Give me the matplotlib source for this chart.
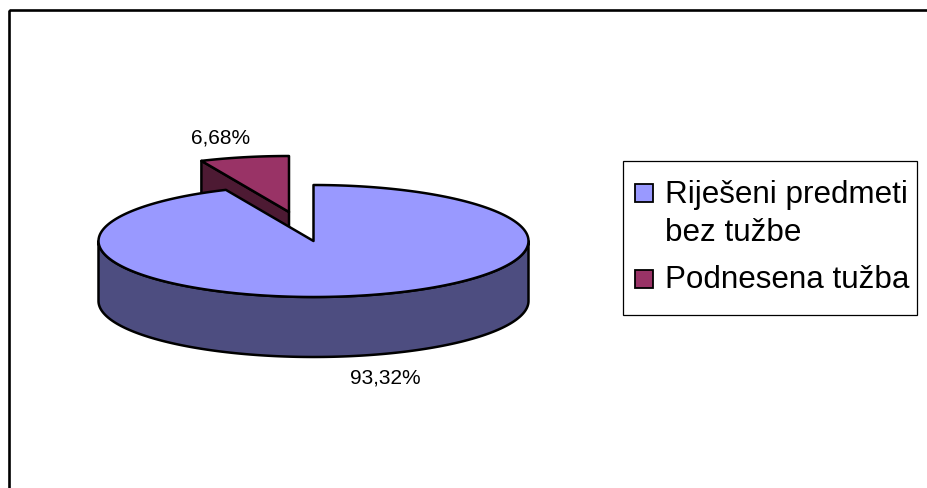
import numpy as np
import matplotlib
matplotlib.use("Agg")
import matplotlib.pyplot as plt
from matplotlib.patches import Polygon, Rectangle

plt.rcParams['font.family'] = ['Liberation Sans', 'DejaVu Sans']

categories = ["Riješeni predmeti\nbez tužbe", "Podnesena tužba"]
shares = [93.32, 6.68]
share_labels = ["93,32%", "6,68%"]
top_colors = ["#9999FF", "#993366"]
side_colors = ["#4D4D80", "#4D1A33"]

W, H = 928, 488
CX, CY, A, B, DEPTH = 313.5, 241.0, 215.0, 56.0, 60.0
EXPLODE = (-24.5, -29.0)
LW = 1.8

fig = plt.figure(figsize=(W / 100, H / 100), dpi=100)
ax = fig.add_axes([0, 0, 1, 1])
ax.set_xlim(0, W)
ax.set_ylim(H, 0)
ax.axis("off")


def arc(t0, t1, cx, cy):
    t = np.radians(np.linspace(t0, t1, 240))
    return np.column_stack([cx + A * np.sin(t), cy - B * np.cos(t)])


def poly(pts, fc, z, ec="black"):
    ax.add_patch(Polygon(pts, closed=True, facecolor=fc, edgecolor=ec,
                         linewidth=LW, joinstyle="round", zorder=z))


# frame: the right and bottom edges lie outside the picture
ax.add_patch(Rectangle((8.7, 9.5), 1000, 600, fill=False, edgecolor="black", linewidth=1.9, zorder=1))

# slice angles derive from the shares
main_sweep = 360 * shares[0] / sum(shares)

# exploded slice (drawn first, partly hidden by the main slice)
ex = CX + EXPLODE[0]
ey = CY + EXPLODE[1]
s0, s1 = main_sweep, 360.0
edge = arc(s0, s1, ex, ey)
apex = np.array([ex, ey])
wall = np.array([edge[0], apex, apex + [0, DEPTH], edge[0] + [0, DEPTH]])
poly(wall, side_colors[1], 3)
poly(np.vstack([edge, apex]), top_colors[1], 4)

# main slice
poly(np.vstack([arc(90, 270, CX, CY), arc(270, 90, CX, CY + DEPTH)]), side_colors[0], 5)
center = np.array([CX, CY])
poly(np.vstack([arc(0, main_sweep, CX, CY), center]), top_colors[0], 6)

# data labels
ax.text(385, 383, share_labels[0], fontsize=15, ha="center", va="baseline", zorder=8)
ax.text(221, 143, share_labels[1], fontsize=15, ha="center", va="baseline", zorder=8)

# legend
ax.add_patch(Rectangle((623, 161), 294, 154, facecolor="white", edgecolor="black", linewidth=0.9, zorder=7))
ax.add_patch(Rectangle((635, 183.5), 18, 18, facecolor=top_colors[0], edgecolor="black", linewidth=1.3, zorder=8))
ax.add_patch(Rectangle((635, 269.5), 18, 18, facecolor=top_colors[1], edgecolor="black", linewidth=1.3, zorder=8))
first, second = categories[0].split("\n")
ax.text(665, 203, first, fontsize=22.6, va="baseline", ha="left", zorder=8)
ax.text(665, 241, second, fontsize=22.6, va="baseline", ha="left", zorder=8)
ax.text(665, 288, categories[1], fontsize=22.6, va="baseline", ha="left", zorder=8)

fig.savefig("out.png", dpi=100, facecolor="white")
